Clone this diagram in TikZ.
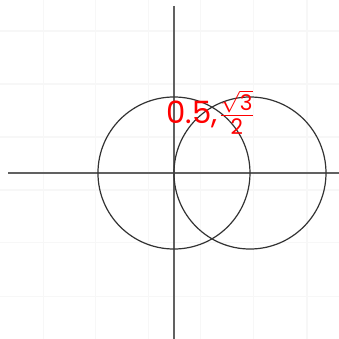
\documentclass[tikz,border=0pt]{standalone}
\usepackage{amsmath}
\usepackage{fontspec}
\setsansfont{Poppins}
\usepackage{tikz}
\usetikzlibrary{positioning}

\begin{document}
\begin{tikzpicture}[x=1cm, y=1cm,
    axis/.style={draw=black!62, line width=0.55pt},
    circ/.style={draw=black!80, line width=0.45pt},
    gridline/.style={draw=black!3, line width=0.4pt},
    lab/.style={text=red, font=\sffamily\fontsize{11.5}{13}\selectfont, inner sep=0pt}]

    % ============ FRAME AND GRID ============
    \useasboundingbox (-2.289,-2.184) rectangle (2.171,2.276);
    \foreach \x in {-1.72,-1.03,-0.34,0.35,1.05,1.75}
      \draw[gridline] (\x,-2.184) -- (\x,2.276);
    \foreach \y in {1.868,1.171,0.474,-0.224,-0.92,-1.63}
      \draw[gridline] (-2.289,\y) -- (2.171,\y);

    % ============ AXES ============
    \coordinate (O) at (0,0);
    \coordinate (C) at (1,0);
    \coordinate (P) at (0.5,0.866);
    \coordinate (XL) at (-2.18,0);
    \coordinate (XR) at (2.171,0);
    \coordinate (YT) at (0,2.2);
    \coordinate (YB) at (0,-2.184);
    \draw[axis] (XL) -- (XR);
    \draw[axis] (YT) -- (YB);

    % ============ CIRCLES ============
    \draw[circ] (O) circle (1);
    \draw[circ] (C) circle (1);

    % intersection label
    \node[lab, xshift=-0.01cm, yshift=-0.07cm] (pt) at (P) {0.5,$\frac{\sqrt{\text{3}}}{\text{2}}$};

\end{tikzpicture}
\end{document}
